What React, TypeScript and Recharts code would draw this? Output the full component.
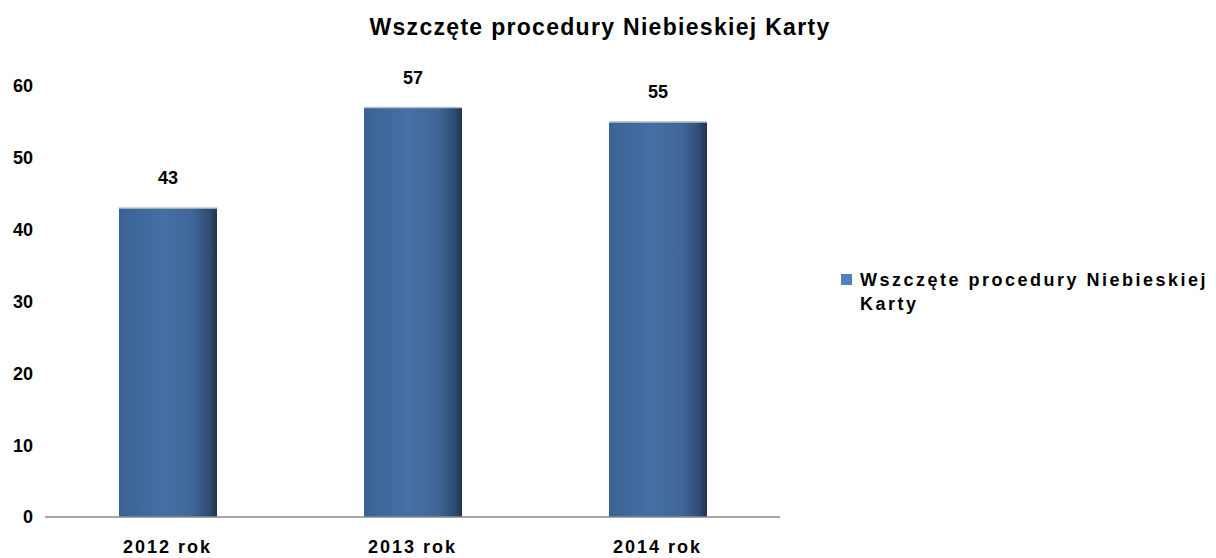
import { BarChart, Bar, XAxis, YAxis, LabelList } from "recharts";

const years = ["2012 rok", "2013 rok", "2014 rok"];
const procedures = [43, 57, 55];
const yTicks = [0, 10, 20, 30, 40, 50, 60];

const seriesName = "Wszczęte procedury Niebieskiej Karty";
const data = years.map((year, i) => ({ year, value: procedures[i] }));

const font = "'Liberation Sans', Arial, sans-serif";

function CylinderBar(props: any) {
  const { x, y, width, height } = props;
  return (
    <g>
      <rect x={x} y={y} width={width} height={height} fill="url(#barGrad)" />
      <line x1={x} y1={y} x2={x + width} y2={y} stroke="#b9c0ca" strokeWidth={1.5} />
    </g>
  );
}

export default function App() {
  return (
    <div style={{ position: "absolute", left: 0, top: 0, width: 1216, height: 558, background: "#fff", overflow: "hidden" }}>
      <BarChart width={1216} height={558} data={data} margin={{ top: 86, right: 436, bottom: 11, left: 0 }} style={{ overflow: "visible" }}>
        <defs>
          <linearGradient id="barGrad" x1="0" y1="0" x2="1" y2="0">
            <stop offset="0%" stopColor="#3a6395" />
            <stop offset="45%" stopColor="#4570a5" />
            <stop offset="75%" stopColor="#3f6698" />
            <stop offset="92%" stopColor="#2f4d74" />
            <stop offset="100%" stopColor="#1f3250" />
          </linearGradient>
        </defs>
        <XAxis
          dataKey="year"
          axisLine={{ stroke: "#888", strokeWidth: 1.5 }}
          tickLine={false}
          tickSize={0}
          tick={{ fontSize: 18, fontWeight: 700, fill: "#000", fontFamily: font, letterSpacing: 2 }}
          tickMargin={23}
        />
        <YAxis
          width={45}
          domain={[0, 60]}
          ticks={yTicks}
          axisLine={false}
          tickLine={false}
          tickSize={0}
          tickMargin={12}
          tick={{ fontSize: 18, fontWeight: 700, fill: "#000", fontFamily: font }}
        />
        <Bar dataKey="value" name={seriesName} barSize={98} shape={<CylinderBar />} isAnimationActive={false}>
          <LabelList dataKey="value" position="top" offset={24} style={{ fontSize: 18, fontWeight: 700, fill: "#000", fontFamily: font }} />
        </Bar>
      </BarChart>
      <div style={{ position: "absolute", top: 14, left: 0, width: 1200, textAlign: "center", fontFamily: font, fontWeight: 700, fontSize: 23, letterSpacing: 1.3, color: "#000" }}>
        {seriesName}
      </div>
      <div style={{ position: "absolute", left: 841, top: 268, width: 375, display: "flex", alignItems: "flex-start", fontFamily: font, fontWeight: 700, fontSize: 18, color: "#000", letterSpacing: 2.5, lineHeight: "24px" }}>
        <span style={{ width: 11, height: 11, background: "#4f81bd", marginTop: 6, marginRight: 8, flexShrink: 0 }} />
        <span>
          Wszczęte procedury Niebieskiej
          <br />
          Karty
        </span>
      </div>
    </div>
  );
}
